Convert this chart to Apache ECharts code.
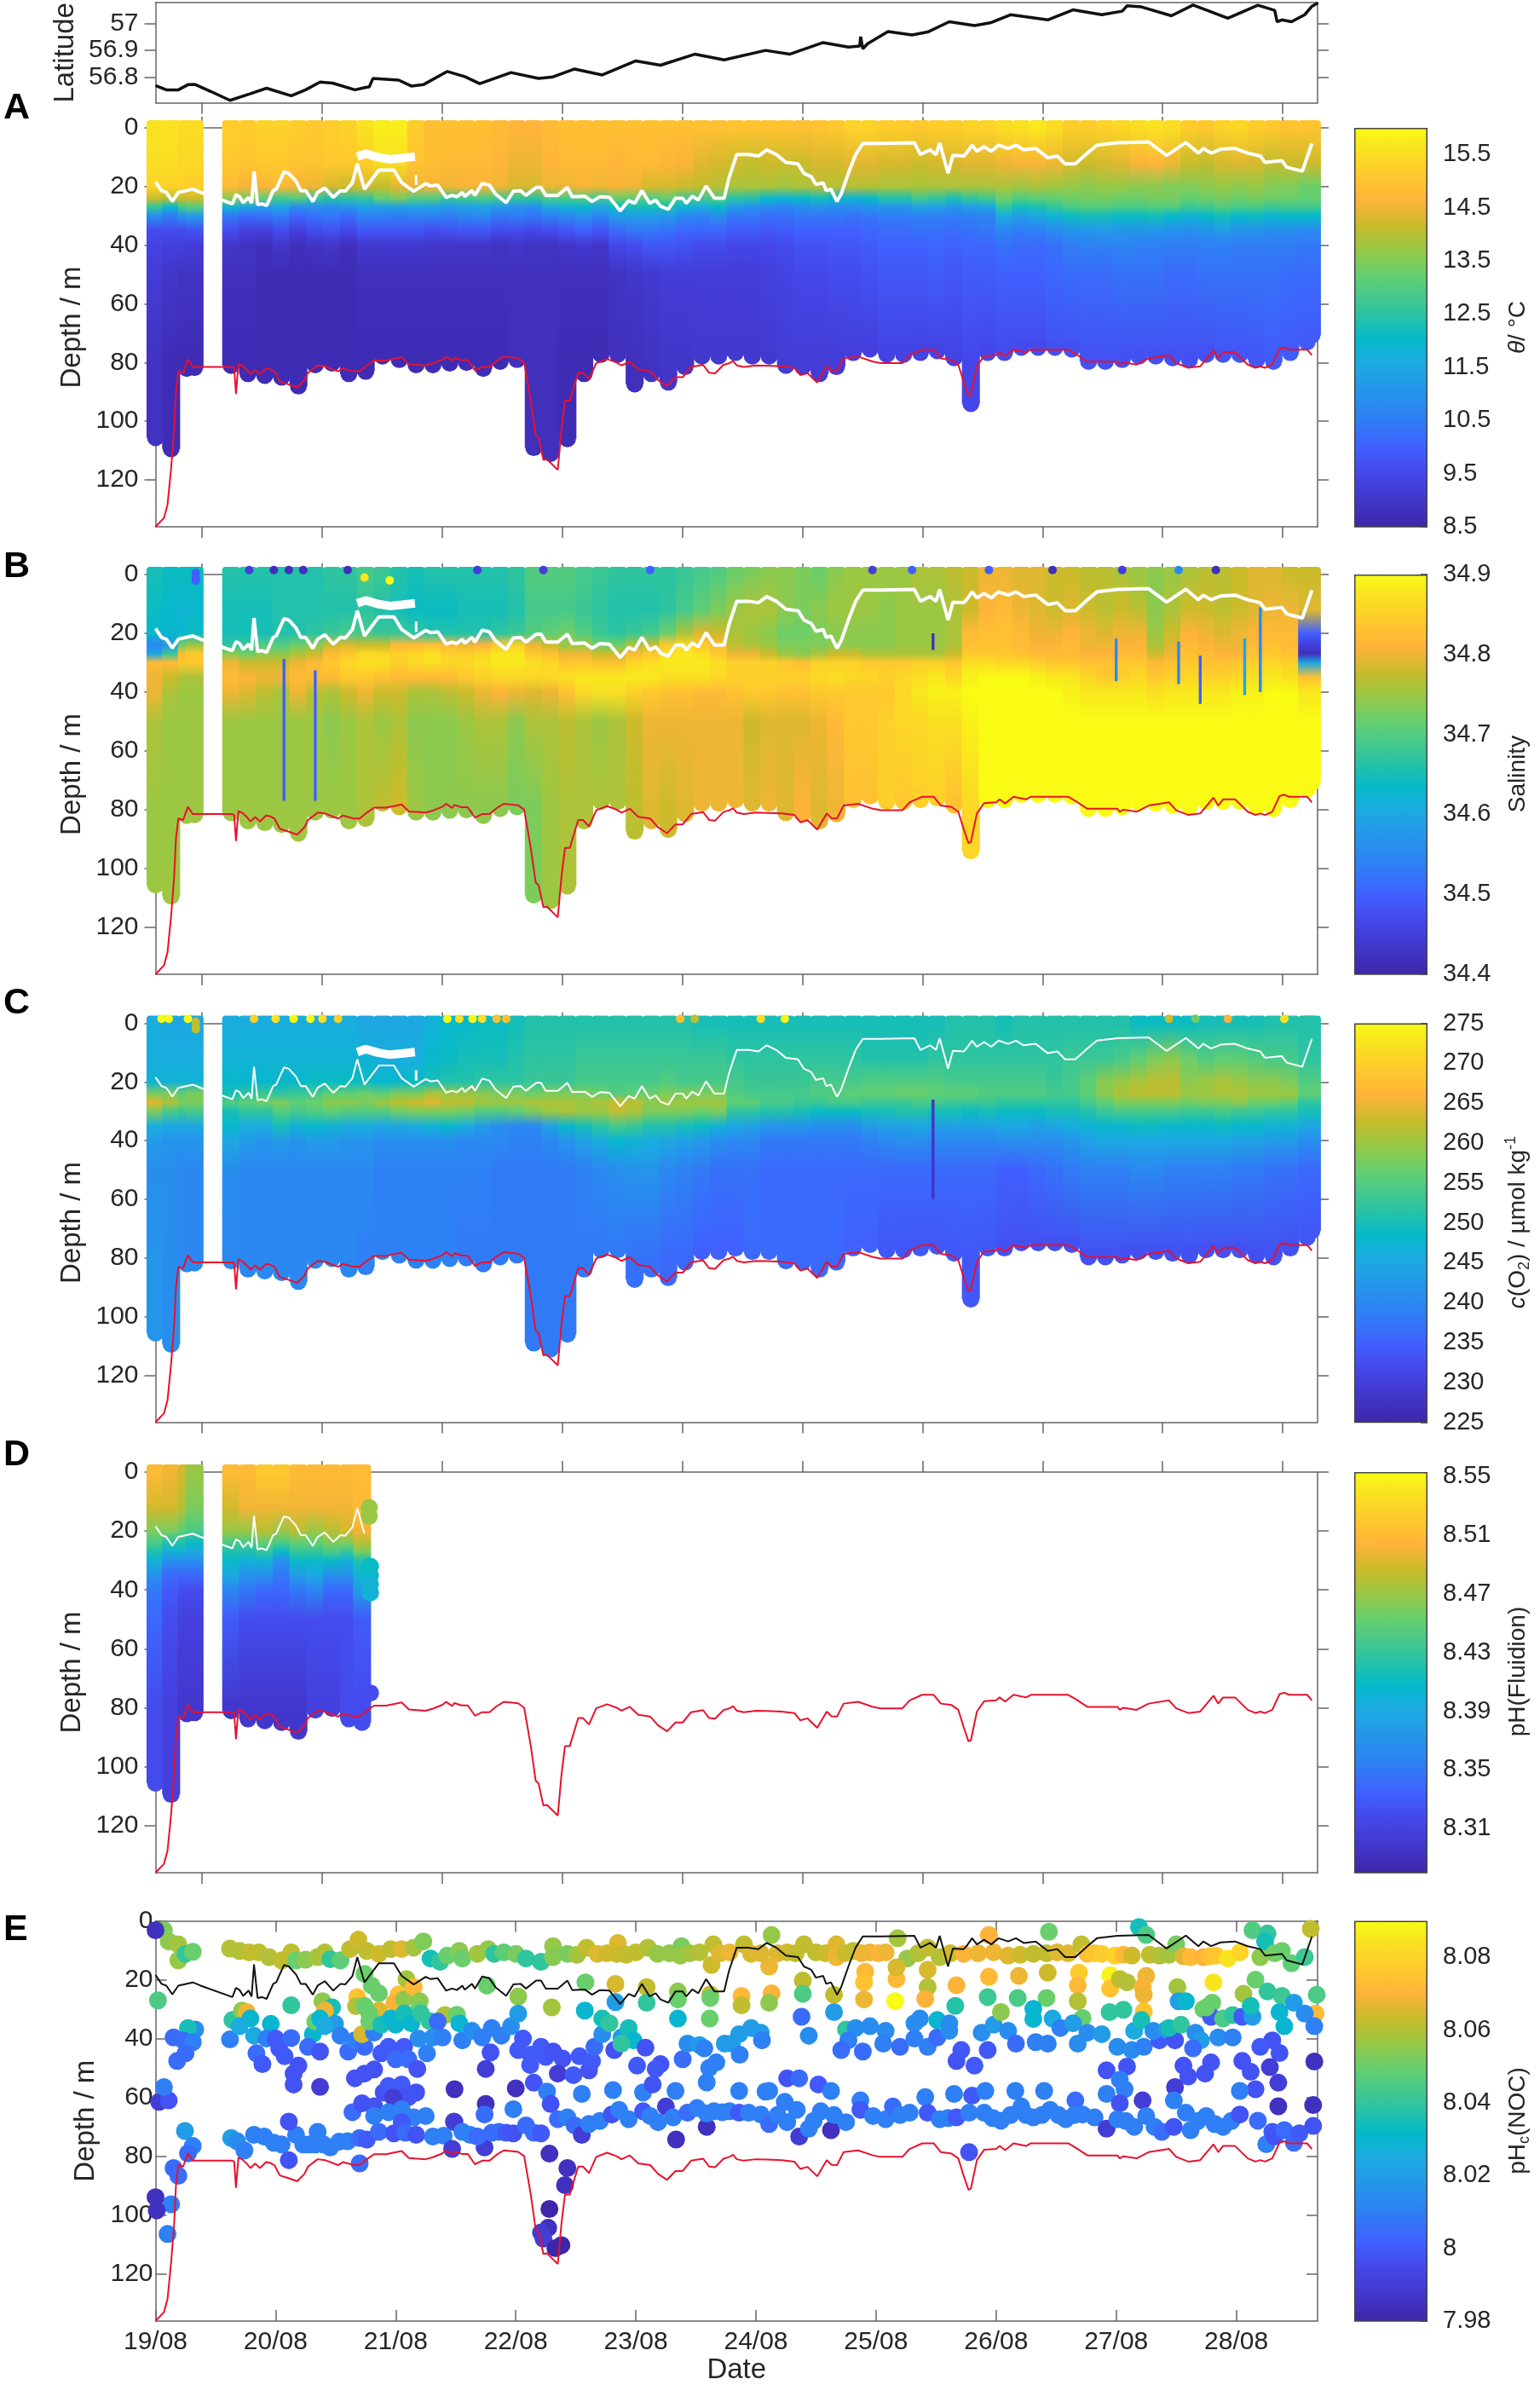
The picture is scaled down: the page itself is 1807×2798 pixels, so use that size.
<!DOCTYPE html>
<html>
<head>
<meta charset="utf-8">
<script src="https://cdn.jsdelivr.net/npm/echarts@6/dist/echarts.min.js"></script>
<style>
html, body { margin: 0; background: #fff; }
#chart { width: 1807px; height: 2798px; }
</style>
</head>
<body>
<div id="chart"></div>
<script>
// ----- tick labels -----
const DATE_LABELS = ["19/08","20/08","21/08","22/08","23/08","24/08","25/08","26/08","27/08","28/08"];
const DATE_TICKS = [0,1,2,3,4,5,6,7,8,9];
const UPPER_TICKS = [0.387,1.387,2.387,3.387,4.387,5.387,6.387,7.387,8.387,9.387];
const DEPTH_TICKS = [0,20,40,60,80,100,120];
const LAT_TICKS = [56.8,56.9,57];
const THETA_TICKS = [8.5,9.5,10.5,11.5,12.5,13.5,14.5,15.5];
const SAL_TICKS = [34.4,34.5,34.6,34.7,34.8,34.9];
const O2_TICKS = [225,230,235,240,245,250,255,260,265,270,275];
const FLU_TICKS = [8.31,8.35,8.39,8.43,8.47,8.51,8.55];
const NOC_TICKS = [7.98,8,8.02,8.04,8.06,8.08];

// ----- ship track and lines, [day, value] -----
const latitudeTrack = [[0,56.77],[.09,56.754],[.19,56.754],[.27,56.773],[.33,56.774],[.46,56.748],[.62,56.715],[.78,56.738],[.925,56.76],[1.13,56.732],[1.25,56.754],[1.37,56.783],[1.475,56.779],[1.66,56.754],[1.76,56.764],[1.78,56.765],[1.81,56.796],[2.025,56.79],[2.13,56.768],[2.23,56.773],[2.43,56.822],[2.575,56.803],[2.7,56.777],[2.96,56.818],[3.19,56.796],[3.31,56.802],[3.49,56.831],[3.72,56.809],[4,56.861],[4.205,56.845],[4.49,56.886],[4.735,56.865],[5.08,56.9],[5.28,56.886],[5.56,56.929],[5.77,56.912],[5.864,56.916],[5.872,56.951],[5.89,56.906],[5.93,56.925],[6.1,56.97],[6.3,56.957],[6.43,56.968],[6.61,57.006],[6.82,56.992],[6.96,57.003],[7.12,57.032],[7.43,57.013],[7.64,57.05],[7.88,57.032],[8.05,57.045],[8.09,57.065],[8.21,57.061],[8.46,57.028],[8.64,57.068],[8.93,57.019],[9.18,57.067],[9.32,57.048],[9.34,57.006],[9.38,57.013],[9.46,57.006],[9.57,57.032],[9.63,57.063],[9.68,57.076]];

const seabed = [[0,136],[.07,133],[.1,128.5],[.13,116],[.155,103],[.17,90],[.19,83],[.23,83.5],[.27,79],[.31,81.5],[.33,81.5],[.64,81.5],[.655,81.8],[.67,90.7],[.69,80.5],[.72,81],[.76,82.5],[.79,84],[.83,82.5],[.87,84],[.92,82],[.95,82.2],[.99,83],[1.035,86.5],[1.11,87.5],[1.18,88.5],[1.24,86],[1.27,83.5],[1.35,81],[1.41,81.3],[1.52,83],[1.56,82],[1.65,83],[1.7,83],[1.76,81],[1.82,79.3],[1.92,79.3],[2.05,78.2],[2.11,80.6],[2.25,81],[2.31,80.3],[2.39,79],[2.42,78],[2.47,79.4],[2.49,78.4],[2.55,79.2],[2.6,79.2],[2.66,82.7],[2.72,81.5],[2.78,81.5],[2.84,79.5],[2.9,78],[3.02,78.5],[3.07,80],[3.125,93],[3.166,104.8],[3.19,105.7],[3.23,113.2],[3.26,113],[3.35,116.6],[3.38,103],[3.41,93],[3.45,93],[3.52,83.5],[3.56,83.5],[3.61,85.7],[3.67,80.2],[3.76,78.8],[3.84,80],[3.88,81],[3.95,79.7],[4.02,82.4],[4.12,83],[4.185,86],[4.26,88],[4.33,85],[4.39,85],[4.46,81.5],[4.56,80.8],[4.61,83.5],[4.66,83.7],[4.73,80.8],[4.78,80.2],[4.81,79.5],[4.84,81],[4.9,81.5],[5,81],[5.09,81.1],[5.215,81.3],[5.32,81.8],[5.37,84.3],[5.43,83.6],[5.51,86.8],[5.59,81.3],[5.63,82.9],[5.675,83],[5.73,78.6],[5.85,78],[5.975,79.7],[6.04,80.2],[6.22,80.2],[6.28,77.5],[6.385,75.6],[6.48,75.6],[6.54,78.6],[6.63,79.1],[6.685,80.7],[6.73,86.6],[6.77,91.4],[6.79,91],[6.84,81.3],[6.9,77.8],[7,77.5],[7.03,76.5],[7.075,77.9],[7.145,75.6],[7.25,76.5],[7.29,75.6],[7.6,75.6],[7.66,77],[7.76,79.7],[8.01,79.7],[8.03,80.7],[8.06,80],[8.17,80.7],[8.27,78.6],[8.44,77.5],[8.5,80.2],[8.6,81.8],[8.7,81.3],[8.81,75.9],[8.85,78.6],[8.89,76.5],[8.99,76.5],[9.095,80.7],[9.16,81.8],[9.2,81.3],[9.24,81.8],[9.3,80.7],[9.36,75.4],[9.4,74.9],[9.44,75.6],[9.59,75.6],[9.63,77.5]];

const mixedLayer = [[0,18.4],[.05,21.4],[.09,22],[.14,25],[.19,22],[.31,20.9],[.375,22],[.64,25.9],[.67,22.8],[.7,23.5],[.73,25.5],[.775,23.7],[.8,25.7],[.82,14.8],[.85,26.2],[.885,25.9],[.925,26.5],[.98,21.4],[1.005,20.9],[1.07,15],[1.11,15.5],[1.17,18.2],[1.21,21.4],[1.25,21.4],[1.31,25.1],[1.35,22],[1.41,20.5],[1.48,23.7],[1.54,21.4],[1.58,21.6],[1.64,18.7],[1.68,12.3],[1.74,20.9],[1.86,14.4],[1.985,14.4],[2.05,18.7],[2.15,21.6],[2.25,19],[2.29,19.8],[2.35,19.5],[2.42,23.7],[2.47,23],[2.51,23.5],[2.555,22],[2.575,23.4],[2.635,21.4],[2.66,23],[2.72,18.9],[2.78,19.5],[2.83,22.5],[2.92,25.5],[2.98,21.6],[3.04,21.4],[3.085,23],[3.17,20.3],[3.21,20.3],[3.25,23],[3.35,23],[3.43,20.3],[3.47,23.5],[3.575,23.3],[3.635,25.1],[3.7,23.5],[3.78,23.7],[3.87,28.3],[3.94,24.8],[3.99,25.7],[4.05,21.4],[4.115,25.7],[4.165,24.6],[4.205,26.7],[4.27,27.8],[4.33,24],[4.39,24],[4.42,25.7],[4.47,23.3],[4.52,24.6],[4.585,19.8],[4.655,24],[4.735,24],[4.775,17.1],[4.84,9.1],[4.94,9.1],[5.02,9.6],[5.09,7.5],[5.17,9.1],[5.25,11.8],[5.35,12.3],[5.4,15.5],[5.46,16.6],[5.5,19.3],[5.56,18.7],[5.585,21.4],[5.625,20.9],[5.675,25.1],[5.71,22.5],[5.77,15.5],[5.83,9.1],[5.89,5.3],[6.04,5.3],[6.32,5.1],[6.37,9.1],[6.45,7.5],[6.5,9.1],[6.53,5.1],[6.6,15.5],[6.64,9.4],[6.73,9.6],[6.755,8.5],[6.8,5.9],[6.84,8],[6.9,6.4],[6.96,8],[7.02,5.9],[7.1,7],[7.165,5.9],[7.23,7.5],[7.33,7],[7.43,10.2],[7.51,9.6],[7.575,12.3],[7.66,12.3],[7.76,8.6],[7.84,5.9],[8.01,5.1],[8.27,4.8],[8.42,9.4],[8.58,5],[8.685,8.6],[8.725,7],[8.79,8.6],[8.87,7.3],[8.99,7],[9.095,8.6],[9.2,9.6],[9.24,11.8],[9.38,11.2],[9.42,13.4],[9.55,14.8],[9.63,5.3]];

// no-data patch in the glider records near 20/08
const gapPatch = [[1.68,9.8],[1.75,8.8],[1.85,10],[1.95,10.7],[2.05,10.3],[2.16,9.8]];
const gapTick = [[2.17,16],[2.17,19.5]];

// ----- glider sections: one value per column, per depth level -----
const LEVELS = [0,12,20,24,27,30,35,40,50,80];
const colDays = [0,.13,.26,.325,.63,.77,.91,1.05,1.19,1.33,1.47,1.61,1.75,1.89,2.03,2.17,2.31,2.45,2.59,2.73,2.87,3.01,3.15,3.29,3.43,3.57,3.71,3.85,3.99,4.13,4.27,4.41,4.55,4.69,4.83,4.97,5.11,5.25,5.39,5.53,5.67,5.81,5.95,6.09,6.23,6.37,6.51,6.65,6.79,6.93,7.07,7.21,7.35,7.49,7.63,7.77,7.91,8.05,8.19,8.33,8.47,8.61,8.75,8.89,9.03,9.17,9.31,9.45,9.59,9.63];
const colBottom = [105.6,109.4,82,81.7,81,83.8,84.4,85,88,80.8,80.2,83.8,83,77.8,79,80.8,80.8,80.2,80,82,79.6,79,109,111,106,83.8,77.2,77.2,87.3,83.8,86.7,81.4,77.8,77.8,76.6,77.8,77.8,81,81.4,83.8,81.4,76.6,75.4,77.2,77.2,76.6,76,78.4,94,76.6,76.6,74.8,74.8,74.8,75.4,79.6,79.6,79,77.8,77.8,78.4,79,77.2,77.2,77.2,79,79.6,76.6,73,70.7];

const theta0 = [15.6,15.6,15.5,15.5,15.2,15.2,15.3,15.3,15.2,15.1,15.2,15.3,15.6,15.8,15.8,15.2,14.9,14.9,14.9,14.9,14.8,14.7,14.7,14.8,14.9,14.9,14.9,14.9,14.9,14.9,14.9,14.9,14.9,14.9,15,15,15,15,14.9,15,15.1,15.3,15.3,15.2,15.2,15.1,15.2,15.2,15.3,15.3,15.5,15.6,15.7,15.5,15.2,15.2,15.3,15.4,15.5,15.6,15.5,15.2,15.1,15.3,15.4,15.2,15.1,15,15,15];
const theta12 = [15.5,15.5,15.4,15.4,15.1,15,15.1,15.1,15,15,15.1,15.1,15.2,15.5,15.5,15,14.9,14.8,14.8,14.8,14.7,14.5,14.5,14.7,14.8,14.8,14.8,14.7,14.8,14.8,14.7,14.6,14.4,14.3,14.2,14.1,14.2,14.2,14.2,14.3,14.3,14.4,14.4,14.3,14.3,14.2,14.3,14.3,14.4,14.4,14.5,14.6,14.6,14.5,14.3,14.2,14.3,14.4,14.6,14.7,14.5,14.2,14.1,14.3,14.4,14.3,14.1,14.2,14.2,14.2];
const theta20 = [15.3,15.3,15.3,15.2,14.8,14.6,14.6,14.8,14.6,14.5,14.3,14.2,14.3,14.1,14.4,14.5,14.6,14.5,14.6,14.6,14.5,14.3,14.3,14.5,14.5,14.6,14.5,14.6,14.5,14.3,14.3,14.2,14.1,14,13.9,13.9,13.9,13.8,13.9,14,14,14,14,13.9,13.9,13.9,13.9,13.9,13.9,13.9,13.9,13.8,13.9,13.8,13.7,13.6,13.7,13.7,13.6,13.6,13.5,13.5,13.6,13.7,13.6,13.7,13.5,13.5,13.3,13.3];
const theta24 = [14.2,14,14.2,14.2,13.6,13.4,13.2,12.8,13,12.6,12.4,12.5,12.6,13.2,13.4,13,13,12.6,12.8,12.9,12.8,12.6,12.5,12.9,12.9,13,12.8,13.3,13.2,13,13.2,12.8,12.8,13,12.5,12.4,12,11.9,12,12.2,11.9,11.8,12,12.4,12.4,12.8,12.6,12.3,12.6,12.8,13.3,13,13.1,13.2,13.3,13.4,13.4,13.3,13.3,13.4,13.4,13.2,13.3,13.4,13.3,13.4,13.3,13.3,13.2,13.2];
const theta27 = [12.6,11.9,12.8,13,11.8,11.4,11.2,11.4,10.9,10.9,10.9,11,11.3,11.3,11.3,11.4,11.3,11.2,11.3,11.4,11.2,11,10.9,11.5,11.8,11.9,11.5,12,12.2,12.2,12.2,11.8,11.6,12,11.2,11,10.8,10.7,10.9,11,10.9,10.9,11,11.1,11.1,11.4,11.3,11.1,11.3,11.4,12.6,12.2,12.3,12.6,12.9,13,13,12.9,12.9,13,13,12.7,12.8,13,12.9,12.9,12.7,12.8,12.8,12.8];
const theta30 = [10.9,10.5,11,11.2,10.4,10.2,10.3,10.5,10.1,10.3,10.4,10.2,10.6,10.6,10.5,10.6,10.6,10.5,10.7,10.8,10.4,10.5,10.4,10.6,10.8,11,10.7,11.2,11.3,11.3,11.2,10.8,10.7,10.9,10.4,10.4,10.3,10.3,10.4,10.4,10.4,10.3,10.4,10.5,10.5,10.6,10.6,10.5,10.6,10.7,11.6,11.3,11.5,11.8,12.1,12.2,12.2,12.1,12.1,12.2,12,11.8,12,12.2,12,12.1,11.9,12,12,12];
const theta35 = [9.6,9.6,9.6,9.7,9.6,9.3,9.3,9.6,9.3,9.6,9.7,9.5,9.8,9.8,9.8,9.8,9.6,9.7,9.8,9.8,9.6,9.6,9.5,9.6,9.8,10,9.8,10.2,10.4,10.4,10.3,10.1,10.1,10.1,9.9,9.9,9.8,9.9,10,10,10,10,10.1,10.2,10.2,10.3,10.3,10.2,10.3,10.4,10.7,10.5,10.6,10.8,11,11.1,11.2,11.1,11.1,11.1,11,10.9,11,11.2,11,11,10.9,10.9,10.8,10.8];
const theta40 = [9.4,9.3,9.3,9.2,9,8.9,8.8,9,8.8,8.9,9,8.8,9.1,9.1,9.1,9.1,9,9,9,9,8.9,9,8.9,8.9,9,9.1,9,9.5,9.6,9.8,9.8,9.7,9.6,9.6,9.5,9.5,9.5,9.6,9.7,9.7,9.8,9.8,9.9,10,10,10,10.1,10,10.1,10.1,10.3,10.2,10.2,10.3,10.5,10.6,10.6,10.7,10.6,10.6,10.5,10.5,10.6,10.6,10.5,10.5,10.5,10.5,10.4,10.4];
const theta50 = [9.2,9,8.9,8.9,8.8,8.8,8.7,8.7,8.7,8.7,8.7,8.7,8.8,8.8,8.8,8.8,8.8,8.8,8.8,8.8,8.8,8.8,8.8,8.8,8.8,8.8,8.8,8.9,9,9.1,9.2,9.2,9.2,9.2,9.2,9.2,9.3,9.4,9.5,9.5,9.6,9.6,9.7,9.8,9.8,9.8,9.9,9.8,9.9,9.9,10,10,10,10.1,10.2,10.2,10.2,10.3,10.3,10.3,10.2,10.2,10.3,10.3,10.3,10.3,10.3,10.2,10.2,10.2];
const theta80 = [8.9,8.7,8.7,8.7,8.7,8.7,8.7,8.7,8.7,8.7,8.7,8.7,8.7,8.7,8.7,8.7,8.7,8.7,8.7,8.7,8.7,8.8,8.8,8.8,8.7,8.7,8.7,8.8,8.8,8.9,9,9,9.1,9.1,9.1,9.1,9.1,9.2,9.2,9.2,9.2,9.3,9.3,9.4,9.4,9.4,9.4,9.4,9.5,9.5,9.6,9.6,9.6,9.7,9.7,9.7,9.7,9.7,9.7,9.7,9.7,9.7,9.7,9.8,9.8,9.8,9.9,9.9,9.9,9.9];

const sal0 = [34.65,34.64,34.64,34.64,34.66,34.66,34.66,34.66,34.66,34.66,34.67,34.67,34.69,34.68,34.66,34.65,34.66,34.66,34.66,34.66,34.66,34.67,34.7,34.7,34.7,34.69,34.68,34.67,34.67,34.67,34.67,34.68,34.69,34.7,34.72,34.73,34.74,34.74,34.73,34.72,34.74,34.75,34.75,34.75,34.75,34.76,34.76,34.77,34.78,34.8,34.8,34.79,34.79,34.78,34.78,34.77,34.77,34.76,34.75,34.74,34.75,34.76,34.77,34.77,34.78,34.79,34.79,34.78,34.78,34.78];
const sal12 = [34.64,34.63,34.62,34.63,34.65,34.65,34.65,34.66,34.66,34.66,34.66,34.66,34.67,34.66,34.65,34.64,34.64,34.64,34.65,34.65,34.65,34.66,34.69,34.69,34.69,34.68,34.67,34.66,34.66,34.66,34.67,34.69,34.71,34.73,34.75,34.76,34.76,34.74,34.73,34.74,34.75,34.75,34.75,34.74,34.75,34.75,34.75,34.76,34.78,34.81,34.82,34.8,34.79,34.78,34.79,34.78,34.77,34.78,34.77,34.74,34.76,34.78,34.78,34.77,34.78,34.79,34.8,34.8,34.79,34.79];
const sal20 = [34.63,34.63,34.63,34.64,34.65,34.65,34.65,34.66,34.66,34.67,34.68,34.69,34.69,34.68,34.68,34.67,34.66,34.66,34.66,34.66,34.67,34.68,34.7,34.71,34.72,34.7,34.68,34.67,34.68,34.69,34.72,34.76,34.79,34.78,34.76,34.75,34.74,34.72,34.72,34.73,34.74,34.74,34.74,34.74,34.75,34.75,34.75,34.76,34.82,34.83,34.83,34.82,34.8,34.8,34.81,34.8,34.79,34.8,34.8,34.75,34.78,34.81,34.8,34.79,34.8,34.81,34.82,34.82,34.5,34.5];
const sal24 = [34.55,34.58,34.72,34.75,34.67,34.68,34.7,34.7,34.72,34.74,34.78,34.79,34.78,34.78,34.82,34.82,34.83,34.82,34.8,34.81,34.84,34.85,34.8,34.78,34.75,34.75,34.72,34.72,34.76,34.78,34.84,34.86,34.84,34.82,34.77,34.76,34.75,34.73,34.73,34.73,34.74,34.74,34.74,34.74,34.75,34.75,34.75,34.76,34.83,34.83,34.83,34.82,34.81,34.81,34.82,34.8,34.8,34.81,34.81,34.76,34.79,34.82,34.81,34.8,34.8,34.82,34.83,34.82,34.45,34.45];
const sal27 = [34.6,34.68,34.82,34.84,34.74,34.72,34.74,34.74,34.76,34.78,34.82,34.84,34.86,34.86,34.85,34.86,34.87,34.85,34.85,34.86,34.88,34.88,34.84,34.83,34.8,34.8,34.78,34.78,34.82,34.84,34.87,34.88,34.87,34.84,34.8,34.8,34.78,34.75,34.74,34.76,34.78,34.78,34.76,34.76,34.76,34.76,34.76,34.78,34.84,34.84,34.84,34.83,34.82,34.82,34.82,34.81,34.81,34.82,34.82,34.78,34.8,34.83,34.82,34.81,34.81,34.83,34.84,34.83,34.42,34.42];
const sal30 = [34.82,34.82,34.84,34.84,34.8,34.78,34.78,34.78,34.8,34.82,34.84,34.86,34.87,34.87,34.85,34.86,34.87,34.86,34.86,34.87,34.88,34.88,34.87,34.86,34.84,34.84,34.83,34.83,34.86,34.87,34.88,34.88,34.88,34.87,34.85,34.85,34.85,34.84,34.83,34.85,34.85,34.85,34.84,34.84,34.84,34.85,34.85,34.84,34.87,34.87,34.86,34.86,34.85,34.84,34.84,34.83,34.83,34.84,34.84,34.82,34.83,34.84,34.83,34.83,34.84,34.85,34.86,34.85,34.6,34.6];
const sal35 = [34.8,34.78,34.76,34.76,34.82,34.81,34.8,34.8,34.82,34.82,34.82,34.84,34.84,34.83,34.82,34.82,34.82,34.82,34.84,34.85,34.86,34.86,34.86,34.86,34.87,34.88,34.88,34.88,34.88,34.88,34.87,34.87,34.87,34.86,34.85,34.85,34.85,34.85,34.85,34.86,34.87,34.86,34.86,34.85,34.86,34.87,34.88,34.86,34.89,34.9,34.9,34.9,34.89,34.88,34.88,34.86,34.84,34.85,34.86,34.84,34.85,34.86,34.85,34.85,34.86,34.87,34.88,34.87,34.83,34.83];
const sal40 = [34.8,34.76,34.75,34.75,34.8,34.79,34.77,34.76,34.8,34.77,34.76,34.78,34.8,34.78,34.78,34.76,34.76,34.77,34.78,34.8,34.81,34.8,34.79,34.8,34.83,34.86,34.87,34.87,34.85,34.84,34.83,34.83,34.82,34.82,34.83,34.84,34.84,34.83,34.83,34.84,34.84,34.84,34.84,34.84,34.86,34.88,34.89,34.89,34.9,34.9,34.9,34.9,34.9,34.9,34.89,34.88,34.88,34.88,34.88,34.87,34.88,34.88,34.88,34.88,34.89,34.89,34.9,34.9,34.88,34.88];
const sal50 = [34.76,34.75,34.75,34.75,34.75,34.75,34.75,34.75,34.75,34.75,34.74,34.75,34.76,34.75,34.76,34.74,34.74,34.74,34.75,34.76,34.76,34.74,34.76,34.76,34.77,34.76,34.75,34.76,34.78,34.8,34.8,34.8,34.8,34.8,34.8,34.78,34.79,34.79,34.79,34.8,34.82,34.84,34.84,34.85,34.86,34.86,34.87,34.87,34.89,34.9,34.9,34.9,34.9,34.9,34.9,34.9,34.9,34.9,34.9,34.9,34.9,34.9,34.9,34.9,34.9,34.9,34.9,34.9,34.9,34.9];
const sal80 = [34.75,34.75,34.75,34.75,34.75,34.75,34.75,34.75,34.75,34.75,34.75,34.75,34.76,34.77,34.78,34.75,34.74,34.74,34.74,34.74,34.74,34.73,34.73,34.75,34.76,34.76,34.76,34.76,34.77,34.79,34.78,34.79,34.8,34.8,34.8,34.79,34.8,34.79,34.81,34.79,34.8,34.83,34.83,34.85,34.84,34.85,34.85,34.83,34.86,34.9,34.9,34.9,34.9,34.9,34.9,34.9,34.9,34.9,34.9,34.9,34.9,34.9,34.9,34.9,34.9,34.9,34.9,34.9,34.9,34.9];

const oxy0 = [246,245,245,245,246,246,246,246,246,246,246,246,245,245,245,245,247,248,248,249,249,250,251,251,251,251,251,251,251,251,251,251,250,250,250,250,250,250,250,250,250,250,250,250,250,250,250,251,251,251,250,251,251,251,251,251,251,251,249,249,249,249,250,250,250,250,251,251,251,251];
const oxy12 = [246,246,246,246,247,247,247,247,247,247,247,247,247,246,246,246,248,249,250,250,250,251,252,252,252,253,253,253,253,253,253,253,253,253,252,252,252,252,252,252,252,252,251,251,251,251,252,252,252,252,252,252,252,252,253,253,253,254,256,258,259,257,255,256,256,255,254,254,252,252];
const oxy20 = [247,247,247,247,248,248,248,248,248,249,249,249,249,248,248,249,250,251,251,252,252,252,253,253,253,254,254,254,254,254,255,254,254,254,254,253,253,253,253,254,254,254,255,255,255,255,255,254,254,254,254,254,254,253,254,256,259,260,261,262,262,259,260,261,260,259,259,258,255,255];
const oxy24 = [258,258,256,258,250,252,253,252,253,254,256,256,257,256,258,258,261,260,260,259,258,258,257,258,258,258,257,255,256,257,258,258,258,258,255,254,254,254,254,255,255,256,256,256,257,257,256,256,256,255,255,255,255,254,254,256,259,261,262,262,262,260,260,261,261,260,260,260,256,256];
const oxy27 = [264,261,258,258,255,256,257,258,256,257,259,259,258,260,262,263,264,262,262,260,260,260,261,261,261,260,261,263,262,259,260,260,260,260,256,256,254,254,253,253,254,254,253,253,253,254,254,253,253,253,252,252,252,252,252,254,256,258,258,258,258,257,258,258,259,257,257,256,252,252];
const oxy30 = [258,254,253,254,250,252,252,255,254,255,256,255,255,255,257,258,258,258,257,255,255,256,258,260,261,260,260,262,261,258,258,258,257,258,252,252,251,251,250,249,249,249,250,250,251,251,250,250,249,250,249,249,249,250,250,251,253,254,254,254,254,253,253,254,253,253,252,252,250,250];
const oxy35 = [246,245,245,245,248,246,246,250,247,248,247,246,246,245,245,246,247,248,246,243,241,240,240,244,248,250,252,254,253,251,251,250,249,247,245,244,242,242,242,241,241,241,243,244,244,245,244,244,244,244,245,245,244,245,246,247,248,248,249,249,248,248,248,249,248,248,247,247,245,245];
const oxy40 = [243,242,242,242,245,243,242,243,242,243,243,242,242,241,241,241,241,241,240,240,240,239,239,240,242,244,246,248,247,246,245,244,243,241,240,240,238,238,238,238,238,238,239,240,241,241,240,240,240,240,241,241,241,241,242,244,245,245,245,245,245,245,245,245,244,244,243,243,241,241];
const oxy50 = [241,241,240,240,241,240,240,240,240,240,240,240,240,239,239,239,239,239,239,239,238,238,238,238,238,239,240,241,242,242,240,239,238,237,237,237,236,236,236,236,236,236,236,236,236,236,236,236,236,236,235,235,236,237,238,239,239,239,240,240,239,239,239,239,238,238,237,237,236,236];
const oxy80 = [242,241,240,240,240,240,240,240,240,240,240,240,239,239,239,239,239,239,238,238,238,238,238,238,238,238,238,238,237,237,236,236,235,235,235,236,236,236,236,236,236,235,235,234,234,234,234,234,234,234,233,233,233,233,233,233,233,233,233,233,233,233,233,233,233,233,233,233,234,234];

const fluDays = [0,.13,.26,.325,.63,.77,.91,1.05,1.19,1.33,1.47,1.61,1.72];
const fluBottom = [105.6,109.4,82,81.7,81,83.8,84.4,85,88,80.8,80.2,83.8,85];
const flu0 = [8.51,8.5,8.49,8.47,8.51,8.51,8.52,8.52,8.51,8.51,8.51,8.51,8.51];
const flu12 = [8.49,8.49,8.48,8.46,8.49,8.5,8.5,8.5,8.5,8.5,8.5,8.5,8.51];
const flu20 = [8.46,8.46,8.45,8.44,8.47,8.47,8.48,8.47,8.48,8.47,8.48,8.49,8.5];
const flu24 = [8.44,8.42,8.42,8.41,8.44,8.44,8.45,8.44,8.45,8.45,8.46,8.46,8.48];
const flu27 = [8.42,8.4,8.4,8.39,8.42,8.42,8.43,8.41,8.43,8.43,8.44,8.43,8.46];
const flu30 = [8.4,8.37,8.37,8.37,8.41,8.4,8.4,8.37,8.41,8.41,8.41,8.4,8.42];
const flu35 = [8.37,8.34,8.34,8.34,8.39,8.37,8.37,8.35,8.38,8.39,8.37,8.37,8.4];
const flu40 = [8.35,8.33,8.32,8.32,8.36,8.35,8.34,8.34,8.35,8.36,8.34,8.34,8.38];
const flu50 = [8.34,8.32,8.31,8.31,8.33,8.32,8.32,8.32,8.32,8.32,8.32,8.32,8.33];
const flu80 = [8.32,8.31,8.3,8.3,8.3,8.3,8.3,8.3,8.3,8.31,8.31,8.32,8.32];
const fluExtra = [[1.78,12,8.47],[1.78,15,8.47],[1.79,32,8.41],[1.79,35,8.41],[1.79,38,8.4],[1.79,41,8.4],[1.79,75,8.32]];

// narrow off-scale profiles, [day, from depth, to depth, value]
const salStreaks = [[1.07,28.7,77,34.5],[1.33,32.6,77,34.5],[6.475,20,25.7,34.42],[8,21.8,36.3,34.55],[8.52,22.8,37.3,34.55],[8.7,27.6,44,34.5],[9.07,21.8,41,34.6],[9.2,11.2,40,34.55]];
const oxyStreaks = [[6.475,26,60,228]];
// odd surface samples, [day, depth, value]
const salSurface = [[.78,-1.5,34.45],[.985,-1.5,34.42],[1.11,-1.5,34.42],[1.23,-1.5,34.42],[1.6,-1.5,34.42],[1.74,1,34.88],[1.95,2,34.9],[2.68,-1.5,34.45],[3.23,-1.5,34.45],[4.12,-1.5,34.5],[5.97,-1.5,34.45],[6.3,-1.5,34.5],[6.94,-1.5,34.5],[7.47,-1.5,34.42],[8.05,-1.5,34.45],[8.52,-1.5,34.55],[8.83,-1.5,34.42],[.335,-.5,34.5],[.335,1,34.5],[.335,2,34.5]];
const oxySurface = [[.05,-1.5,275],[.11,-1.5,275],[.27,-1.5,275],[.335,-.5,262],[.335,1,262],[.335,2,262],[.82,-1.5,270],[1,-1.5,272],[1.15,-1.5,275],[1.29,-1.5,275],[1.39,-1.5,272],[1.52,-1.5,270],[2.43,-1.5,275],[2.53,-1.5,272],[2.64,-1.5,275],[2.72,-1.5,272],[2.84,-1.5,268],[2.92,-1.5,268],[4.37,-1.5,268],[4.49,-1.5,262],[5.04,-1.5,272],[5.24,-1.5,274],[8.44,-1.5,263],[8.66,-1.5,257],[8.93,-1.5,266],[9.4,-1.5,272]];

// ----- discrete pH samples, [day, depth, pH] -----
const nocSurface = [[.07,3.2,8.053],[.11,7,8.055],[.19,8,8.058],[.19,13.4,8.056],[.25,11.2,8.04],[.31,10.5,8.05],[.62,9.4,8.06],[.7,10.2,8.06],[.78,10.7,8.062],[.86,10.7,8.062],[.945,12.3,8.06],[1.05,13.4,8.062],[1.13,10.7,8.062],[1.17,13.4,8.05],[1.25,13.2,8.055],[1.35,12.3,8.058],[1.41,10.7,8.06],[1.455,13,8.04],[1.54,13.4,8.048],[1.62,9.6,8.062],[1.69,6.4,8.064],[1.76,10.2,8.062],[1.86,11.2,8.064],[1.96,9.6,8.062],[2.05,9.6,8.066],[2.15,9.1,8.058],[2.23,7,8.053],[2.29,12.8,8.035],[2.37,13.9,8.04],[2.43,11.8,8.05],[2.53,10.2,8.055],[2.555,12.8,8.05],[2.68,11.2,8.058],[2.77,9.6,8.056],[2.82,11.2,8.04],[2.9,10.7,8.048],[3,11.2,8.052],[3.085,12.8,8.04],[3.21,13.9,8.04],[3.31,8.6,8.056],[3.31,12.3,8.054],[3.43,11.2,8.052],[3.51,11.5,8.058],[3.59,9.1,8.062],[3.68,11.2,8.066],[3.76,11,8.064],[3.85,7.5,8.066],[3.84,11.2,8.064],[3.92,11.5,8.062],[4,10.7,8.062],[4.1,9.1,8.06],[4.18,11.2,8.056],[4.28,11,8.056],[4.38,8.6,8.052],[4.37,11.8,8.056],[4.45,11,8.058],[4.53,10.7,8.06],[4.645,8,8.062],[4.63,15,8.064],[4.7,11,8.066],[4.78,10.7,8.068],[4.9,8,8.062],[4.96,11.2,8.066],[5.13,4.8,8.056],[5.11,15.5,8.068],[5.04,11,8.066],[5.18,11,8.066],[5.26,10.7,8.064],[5.33,11,8.062],[5.4,8,8.062],[5.5,10.7,8.062],[5.58,11,8.064],[5.67,8,8.066],[5.67,12.3,8.068],[5.74,11,8.064],[5.81,10.2,8.062],[5.88,11,8.068],[5.95,10.7,8.068],[6.02,11,8.07],[6.08,10.7,8.068],[6.18,5.9,8.058],[6.26,12.8,8.056],[6.35,11,8.06],[6.43,9.1,8.062],[6.53,12.3,8.06],[6.62,11,8.064],[6.73,11.2,8.07],[6.85,11,8.068],[6.94,4.8,8.07],[6.98,10.7,8.068],[7.1,11.8,8.066],[7.2,11.5,8.064],[7.31,11.2,8.062],[7.44,3.7,8.05],[7.42,11,8.062],[7.51,10.7,8.066],[7.6,11,8.066],[7.71,8,8.062],[7.76,11.2,8.074],[7.82,11,8.076],[7.88,11.2,8.078],[7.99,11.8,8.08],[8.06,11.5,8.072],[8.13,11.8,8.064],[8.19,2.1,8.035],[8.25,4.8,8.045],[8.28,11.5,8.062],[8.36,11.8,8.06],[8.44,11.5,8.058],[8.5,8,8.052],[8.56,12,8.066],[8.62,12.3,8.072],[8.725,12.3,8.07],[8.78,12,8.074],[8.83,11.8,8.076],[8.93,12.8,8.085],[9.03,10.7,8.08],[9.135,3.2,8.046],[9.2,12.3,8.055],[9.26,4.3,8.04],[9.24,7,8.035],[9.32,11,8.052],[9.38,10.2,8.05],[9.46,14.4,8.048],[9.57,12.3,8.042],[9.62,2.7,8.062]];
const nocScattered = [[.02,27,8.045],[1.13,28.7,8.04],[1.39,27.3,8.055],[1.47,29.4,8.035],[1.41,30.5,8.068],[1.68,25.9,8.075],[1.67,29,8.06],[1.74,18,8.05],[1.8,22,8.05],[1.86,24.6,8.05],[2.025,25,8.075],[1.99,27.8,8.07],[2.07,26.7,8.055],[2.09,19.8,8.058],[2.15,22.5,8.072],[2.2,27.3,8.055],[2.19,30.5,8.05],[1.86,30.5,8.066],[1.78,31.5,8.05],[1.74,28.9,8.05],[2.76,22,8.05],[3.02,25.7,8.055],[3.3,29.4,8.058],[3.58,20.9,8.05],[3.83,21.4,8.065],[4.09,22.5,8.062],[4.09,27.8,8.04],[4.35,24,8.055],[4.35,26.7,8.05],[4.62,25,8.062],[4.62,26.2,8.05],[4.88,25.5,8.072],[4.88,28.7,8.062],[5.13,24.6,8.07],[5.11,27.8,8.055],[5.39,20.3,8.062],[5.39,24.8,8.045],[5.65,25.1,8.062],[5.91,17.3,8.072],[5.9,20.9,8.075],[5.9,26.7,8.068],[6.16,27.3,8.09],[6.17,19.8,8.072],[6.17,15.8,8.065],[6.43,16.6,8.065],[6.43,22.5,8.06],[6.41,26.5,8.07],[6.67,21.9,8.07],[6.66,28.9,8.038],[6.94,19,8.072],[6.93,25.9,8.042],[7.19,18.7,8.068],[7.18,26.2,8.045],[7.43,17.6,8.064],[7.42,26.2,8.05],[7.69,17.6,8.078],[7.68,21.9,8.072],[7.68,27.3,8.06],[7.72,33,8.05],[7.95,18.5,8.088],[7.95,23,8.075],[8.03,19.8,8.062],[8.09,20.9,8.06],[8.25,18.7,8.068],[8.22,22.5,8.07],[8.23,25,8.068],[8.23,30.8,8.075],[8.51,22.5,8.058],[8.81,20.9,8.085],[9.16,20,8.05],[9.06,24.8,8.058],[9.26,24,8.04],[9.38,25.5,8.042],[9.67,25.1,8.045],[9.66,31.5,8.072],[8.8,27.8,8.05],[8.725,30,8.05]];
const nocMiddle = [[.33,36.9,8.015],[.27,36.4,8.035],[.15,39.6,8.005],[.23,40.6,8.005],[.31,41.2,8.01],[.25,45,8.005],[.18,47.6,8.005],[.62,40.3,8.01],[.64,33.7,8.04],[.72,30.5,8.055],[.76,31,8.068],[.79,33.2,8.03],[.7,35.8,8.025],[.82,39,8.025],[.96,35,8.03],[.925,40,8.01],[.84,45,8.005],[.89,48.7,8],[1,40,8],[1.03,43.3,8],[1.075,46,8],[1.13,39.8,8.005],[1.31,38.5,8.03],[1.33,34.2,8.05],[1.37,33.2,8.03],[1.495,35,8.02],[1.41,35.8,8.025],[1.54,39,8.01],[1.27,42.8,8.005],[1.37,44.4,7.998],[1.605,44.4,8.005],[1.66,40.6,8.01],[1.74,42.8,8.005],[1.72,38.5,8.065],[1.82,38,8.01],[1.78,34.2,8.05],[1.88,35.3,8.035],[1.96,33.2,8.03],[2,35.3,8.03],[2.07,31.5,8.035],[2.13,34.8,8.03],[2.21,31.5,8.04],[2.28,34,8.04],[2.41,32,8.06],[2.51,31.9,8.05],[2.35,34.2,8.005],[2.53,34.8,8.03],[2.31,39.6,8.015],[2.39,39.6,8.01],[2.19,40,8.015],[2.26,45,8.01],[1.88,45,8],[1.94,42.8,8],[2.07,42.8,8],[2,47,8.005],[2.105,47,8.005],[2.18,50.3,7.998],[2.555,40.6,8.01],[2.635,37.4,8.015],[2.72,39.6,8.01],[2.8,36.4,8.01],[2.88,39,8.01],[2.96,35.8,8.015],[3.02,31.5,8.02],[2.79,44.7,7.998],[2.75,50.3,7.99],[3.02,43.9,8],[3.06,40,8],[3.125,45.5,8],[3.21,42.8,8],[3.12,49,8],[3.25,46.2,8],[3.31,44.4,7.998],[3.39,46.8,7.998],[3.35,51.9,7.99],[3.48,52.4,8],[3.53,46,8],[3.61,50.8,7.998],[3.635,47.6,8],[3.655,42.8,8.005],[3.72,38.5,8.015],[3.575,30.5,8.03],[3.83,27.6,8.02],[3.72,33.2,8.035],[3.78,34.8,8.04],[3.82,43.9,7.998],[3.88,39.6,8.02],[3.94,36.4,8.035],[3.98,40.6,8.03],[3.88,41.7,8.04],[4.08,43.1,7.998],[4.01,49.2,8],[4.205,48.7,7.998],[4.165,50.3,8],[4.35,33.2,8.03],[4.615,33.2,8.05],[4.39,47,8.005],[4.43,41.7,8.015],[4.53,42.2,8.02],[4.57,43.3,8.01],[4.67,48.1,8.01],[4.61,50,8.01],[4.74,41.7,8.02],[4.86,38.5,8.02],[4.8,41.7,8.02],[4.96,36.4,8.02],[4.865,45.5,8.01],[5.04,38,8.02],[5.05,40.6,8.01],[5.38,32.6,8.005],[5.44,39,8.015],[5.65,31,8.02],[5.75,36.9,8.04],[5.83,36.4,8.015],[5.77,40.6,8.01],[5.71,43.9,8.005],[5.89,44.4,8.005],[5.95,35.8,8.015],[6.08,37.4,8.015],[6.06,41.7,8.01],[6.2,42.8,8.005],[6.32,34.8,8.015],[6.365,33.2,8.015],[6.51,33.7,8.03],[6.61,34.8,8.015],[6.32,40,8.01],[6.43,42.8,8.01],[6.51,39.6,8.005],[6.61,37.4,8.015],[6.88,38,8.015],[6.98,35.3,8.02],[7.1,37.4,8.015],[7.04,31,8.055],[7.31,33.3,8.03],[7.31,29.9,8.03],[7.165,41.7,8.005],[7.33,41.2,8.01],[7.47,33.2,8.025],[7.43,41.7,8.01],[7.535,36.4,8.01],[7.64,34.8,8.02],[7.68,41.7,8.015],[7.76,38,8.015],[7.88,38.5,8.02],[8.01,42.8,8.015],[7.945,31,8.04],[8.06,30.2,8.04],[8.15,37.4,8.025],[8.13,43.9,8.015],[8.23,42.8,8.01],[8.21,33.7,8.035],[8.36,40.6,8],[8.31,37.4,8.015],[8.42,36.9,8.02],[8.49,40.6,7.998],[8.44,36.4,8.035],[8.52,27.3,8.02],[8.58,27.3,8.03],[8.54,35.3,8.04],[8.66,38,8.015],[8.705,40.6,8.02],[8.64,43.3,8.005],[8.79,32.6,8],[8.75,29.4,8.05],[8.85,39.6,8.015],[8.97,39.6,8.01],[8.89,33.2,8.045],[8.97,32,8.04],[9.05,32.6,8],[9.135,32.6,8.02],[9.12,28.9,8.035],[9.3,40.6,7.998],[9.2,42.8,8],[9.36,44.9,7.998],[9.36,31,8.03],[9.4,35.8,8.03],[9.48,27.8,8.02],[9.57,31.5,8.015],[9.65,35.8,8.01],[9.65,47.8,7.985]];
const nocDeep = [[1.15,51.9,7.998],[1.19,49.2,7.998],[1.15,55.6,7.998],[1.37,56.4,7.99],[1.66,53.5,7.998],[1.74,51.9,7.998],[1.82,50.5,7.998],[1.9,58.3,7.998],[1.94,56.1,8],[2.05,55.6,8],[2.105,60,7.998],[2.17,58.3,7.998],[1.98,60,7.99],[2.49,57.2,7.985],[2.75,62.2,7.985],[3,56.9,7.985],[3.15,55,7.998],[3.26,58,8.01],[3.29,62.2,7.998],[3.55,58.8,8.01],[3.81,57.5,8.01],[4.06,58.3,8.01],[4.14,55.6,7.998],[4.33,57.8,8.01],[4.59,54.9,8.01],[4.86,57.8,8.01],[5.08,58,8.01],[2.98,64,8.01],[.03,61.5,7.99],[.11,61,7.998],[.07,56.5,8.01],[5.26,53.5,7.998],[5.36,53.5,8.005],[5.52,55.6,8],[5.625,57.8,8.01],[5.11,57.8,8.01],[6.67,47.6,7.998],[6.71,43.9,8],[6.82,49.2,8],[6.93,43.9,8],[6.65,58.8,8.01],[6.8,59.4,8],[6.91,57.8,8.01],[7.16,57.8,8.01],[7.4,57.8,8.01],[7.66,61,8.005],[7.92,50.8,7.998],[8.09,49.5,7.998],[8.03,54,8.01],[8.07,57.2,8.01],[7.92,58.8,8.01],[8.56,49.2,7.998],[8.6,52.9,7.998],[8.74,51.9,7.998],[8.79,48.1,7.998],[8.49,56.5,7.99],[8.48,61,8.01],[9.05,47.6,7.998],[9.12,51.3,7.998],[9.28,49.7,7.99],[9.35,55,7.99],[9.16,57.2,7.998],[9.03,57.8,8.01],[9.35,63,7.985],[9.64,62.6,7.985],[8.22,61,7.99],[8.03,62,7.998],[1.64,65,8.005],[1.72,62,7.998],[1.82,63,7.998],[1.82,66.3,8.01],[1.94,65,8.01],[2.05,64,8.01],[2.15,66.8,8.01],[2.25,66.3,8.01],[2.74,65.8,8.005],[2.49,68.4,7.998],[2.05,68.4,8]];
const nocLower = [[.245,71.4,8.02],[.31,76.5,8.01],[.27,79,8.005],[.15,84,8.005],[.19,86.6,8.005],[.13,96.3,8.01],[.1,106.4,8.01],[0,93.9,7.985],[.01,98.4,7.985],[0,3.2,7.985],[.63,73.8,8.02],[.68,74.9,8.015],[.74,78,8.01],[.82,72.7,8.01],[.905,73.3,8.01],[.985,75.4,8.01],[1.05,76,8.01],[1.11,81.3,7.998],[1.17,72.7,8.01],[1.23,76,8.01],[1.11,68.2,7.998],[1.28,76,8.01],[1.35,71.7,8.01],[1.33,76,8.01],[1.4,76,8.01],[1.455,77,8.01],[1.53,75,8.01],[1.6,74.9,8.01],[1.7,82.4,8.005],[1.7,73.8,8.005],[1.76,74.3,8],[1.86,71.7,8.005],[1.985,72.2,7.998],[2.08,72,8.005],[2.17,72.7,7.998],[2.31,73.3,8.01],[2.4,73,8.01],[2.485,68.2,7.99],[2.47,77.5,7.99],[2.555,71.7,8.01],[2.62,72.7,8.01],[2.74,77,7.99],[2.68,73.3,8.005],[2.8,72,8.005],[2.86,71.7,8.005],[2.92,72,8],[2.98,72.2,7.998],[3.085,69.5,8.005],[3.15,72,8.005],[3.21,72.2,8],[3.28,79.1,7.985],[3.43,84,7.985],[3.41,89.8,7.985],[3.28,97.9,7.98],[3.27,104.3,7.985],[3.21,105.9,7.99],[3.23,108,7.99],[3.33,111.2,7.98],[3.38,110.2,7.98],[3.35,67.4,8.005],[3.43,66.8,8.01],[3.49,69.5,8.005],[3.55,72.7,7.99],[3.61,69,8.01],[3.7,68,8.01],[3.8,65.8,7.998],[3.86,64.2,8.01],[3.94,67.4,8.01],[4.06,64.7,8],[4.12,66.3,8.01],[4.185,68.4,8.01],[4.25,63.1,7.99],[4.31,66.8,8.01],[4.335,74.3,7.985],[4.43,65.2,8.005],[4.51,63.6,8.01],[4.59,70,7.985],[4.59,65.5,8.01],[4.65,64.7,8.01],[4.72,65,8.01],[4.78,64.7,8.01],[4.86,65.2,8],[4.94,65.2,8.01],[5.04,65.8,8.01],[5.11,69,8.005],[5.18,66,8.01],[5.24,61.5,8.01],[5.26,68.4,8.01],[5.36,73.3,7.99],[5.44,70.6,8.01],[5.34,64.2,8.01],[5.54,64.7,8.01],[5.48,68,8.01],[5.625,71.1,7.985],[5.65,66,8.01],[5.75,68.4,8.01],[5.87,61,8.01],[5.87,64.2,8],[5.975,66.3,8.01],[6.08,67.4,8.01],[6.14,63.1,8.005],[6.2,66,8.01],[6.28,65.2,8.01],[6.41,59.9,8.01],[6.43,65.2,8],[6.53,67.4,8.01],[6.6,67,8.01],[6.67,66.8,8],[6.775,65.2,8.01],[6.775,78.6,7.998],[6.9,65.2,8.01],[6.97,67,8.01],[7.04,67.9,8.01],[7.12,66,8.01],[7.21,63.1,8.01],[7.25,66,8.01],[7.31,66.8,8.01],[7.38,66,8.01],[7.45,64.2,8.01],[7.52,66,8.01],[7.58,67.4,8.01],[7.65,66,8.01],[7.72,65.8,8.01],[7.82,66.8,8.01],[7.92,70.6,7.99],[8.01,67.4,8.01],[8.08,68,8.01],[8.15,70,8.01],[8.25,66.3,8.01],[8.32,70,8.01],[8.38,71.7,8.005],[8.48,70,7.998],[8.58,65.2,8.01],[8.62,71.1,8.01],[8.68,68,8.01],[8.75,66.3,8.01],[8.82,69,8.01],[8.89,70,8.01],[8.96,68,8.01],[9.03,65.8,7.998],[9.18,67.9,8.005],[9.25,75.9,8.01],[9.3,71.7,8],[9.32,73.3,7.998],[9.4,71.1,8.005],[9.48,75.4,8.005],[9.525,72.2,8],[9.64,69.7,7.998]];

// ----- parula-like colour map -----
const COLOR_STOPS = [[0,"#3e26a8"],[.13,"#4545e8"],[.2,"#4060ff"],[.27,"#2f7ef5"],[.415,"#1bace0"],[.47,"#04b9c8"],[.54,"#2ec4a0"],[.63,"#64cf70"],[.7,"#9cc742"],[.757,"#c9bb2a"],[.82,"#ffb33a"],[.88,"#ffc82e"],[.95,"#f9e320"],[1,"#f9fb15"]];
const STOP_RGB = COLOR_STOPS.map(s => [s[0], parseInt(s[1].slice(1,3),16), parseInt(s[1].slice(3,5),16), parseInt(s[1].slice(5,7),16)]);
function colorAt(v, range) {
  const f = Math.min(1, Math.max(0, (v - range[0]) / (range[1] - range[0])));
  let i = 1;
  while (i < STOP_RGB.length - 1 && STOP_RGB[i][0] < f) i++;
  const a = STOP_RGB[i-1], b = STOP_RGB[i], t = (f - a[0]) / (b[0] - a[0]);
  return "rgb(" + [1,2,3].map(k => Math.round(a[k] + (b[k] - a[k]) * t)).join(",") + ")";
}

const FONT = '"Liberation Sans", Arial, sans-serif';
const TEXT = "#262626", FRAME = "#666";
const LEFT = 182.5, PLOT_W = 1363.5, DAY_MAX = 9.677, DEPTH_MAX = 136;
const BAR_LEFT = 1589, BAR_W = 86;
const COL_HALF = 0.075, STREAK_HALF = 0.012, DOT = 20, CAP = 9;
const PANELS = [
  { top: 150, height: 468 },
  { top: 674, height: 469 },
  { top: 1200.5, height: 468 },
  { top: 1727, height: 470 },
  { top: 2253.5, height: 469.5 }
];

const chart = echarts.init(document.getElementById("chart"), null, { renderer: "canvas" });
const grids = [], xAxes = [], yAxes = [], series = [];
const lineAx = { show: true, lineStyle: { color: FRAME, width: 1.5 } };
const tickAx = (values, inside) => ({ show: true, inside: !!inside, length: 13, customValues: values, lineStyle: { color: FRAME, width: 1.5 } });

// every plot gets a closed frame: bottom + top x axes, left + right y axes
function addPlot(top, height, cfg) {
  const g = grids.length;
  // outerBoundsMode none: echarts 6 would otherwise shrink the grid to fit the axis names
  grids.push({ left: LEFT, width: PLOT_W, top, height, containLabel: false, outerBoundsMode: "none" });
  const inside = !!cfg.inside;
  xAxes.push({
    gridIndex: g, type: "value", min: 0, max: DAY_MAX, position: "bottom", splitLine: { show: false },
    axisLine: { ...lineAx, onZero: false }, axisTick: tickAx(cfg.xTicks, inside),
    axisLabel: cfg.xLabels
      ? { show: true, customValues: cfg.xTicks, formatter: v => DATE_LABELS[v], fontFamily: FONT, fontSize: 30, color: TEXT, margin: 10 }
      : { show: false },
    name: cfg.xName || "", nameLocation: "middle", nameGap: 41, nameTextStyle: { fontFamily: FONT, fontSize: 33, color: TEXT }
  });
  xAxes.push({
    gridIndex: g, type: "value", min: 0, max: DAY_MAX, position: "top", splitLine: { show: false },
    axisLine: { ...lineAx, onZero: false },
    axisTick: cfg.noTopTicks ? { show: false } : tickAx(cfg.xTicks, inside),
    axisLabel: { show: false }
  });
  yAxes.push({
    gridIndex: g, type: "value", min: cfg.yMin, max: cfg.yMax, inverse: !!cfg.inverse, position: "left", splitLine: { show: false },
    axisLine: { ...lineAx, onZero: false }, axisTick: tickAx(cfg.yTicks, inside),
    axisLabel: { show: true, customValues: cfg.yTicks, hideOverlap: false, fontFamily: FONT, fontSize: 30, color: TEXT, margin: inside ? 3 : 20 },
    name: cfg.yName, nameLocation: "middle", nameGap: cfg.nameGap, nameRotate: 90, nameTextStyle: { fontFamily: FONT, fontSize: 33, color: TEXT }
  });
  yAxes.push({
    gridIndex: g, type: "value", min: cfg.yMin, max: cfg.yMax, inverse: !!cfg.inverse, position: "right", splitLine: { show: false },
    axisLine: { ...lineAx, onZero: false }, axisTick: tickAx(cfg.yTicks, inside), axisLabel: { show: false }
  });
  return { xAxisIndex: 2 * g, yAxisIndex: 2 * g };
}

function addColorbar(top, height, range, ticks) {
  const g = grids.length;
  grids.push({ left: BAR_LEFT, width: BAR_W, top, height, outerBoundsMode: "none" });
  xAxes.push({ gridIndex: g, type: "category", data: ["bar"], show: false });
  yAxes.push({
    gridIndex: g, type: "value", min: range[0], max: range[1], position: "right", splitLine: { show: false },
    axisLine: { show: false }, axisTick: { show: true, inside: true, length: 8, customValues: ticks, lineStyle: { color: "#333", width: 1.5 } },
    axisLabel: { show: true, customValues: ticks, fontFamily: FONT, fontSize: 29, color: TEXT, margin: 18 }
  });
  series.push({
    type: "bar", xAxisIndex: xAxes.length - 1, yAxisIndex: yAxes.length - 1, barWidth: "100%", silent: true,
    data: [range[1]],
    itemStyle: {
      color: new echarts.graphic.LinearGradient(0, 1, 0, 0, COLOR_STOPS.map(s => ({ offset: s[0], color: s[1] }))),
      borderColor: "#444", borderWidth: 1.5
    }
  });
}

function addLine(ax, data, color, width, z) {
  series.push({ type: "line", ...ax, data, showSymbol: false, symbol: "none", silent: true, clip: false, z: z || 6, lineStyle: { color, width }, emphasis: { disabled: true } });
}

// a section: gradient column per profile, capped above depth 0; dots at the bottom sample give the scalloped edge
function addField(ax, days, bottoms, rows, range) {
  const deep = rows[rows.length - 1];
  series.push({
    type: "custom", ...ax, silent: true, z: 3, clip: false,
    data: days.map((d, i) => [d, bottoms[i], i]),
    encode: { x: 0, y: 1 },
    renderItem: (params, api) => {
      const d = api.value(0), b = api.value(1), i = api.value(2);
      const p0 = api.coord([d - COL_HALF, 0]), p1 = api.coord([d + COL_HALF, b]);
      const h = p1[1] - p0[1], total = h + CAP;
      const stops = [{ offset: 0, color: colorAt(rows[0][i], range) }];
      LEVELS.forEach((lv, k) => { if (lv <= b) stops.push({ offset: (CAP + h * lv / b) / total, color: colorAt(rows[k][i], range) }); });
      stops.push({ offset: 1, color: colorAt(deep[i], range) });
      return {
        type: "rect",
        shape: { x: p0[0], y: p0[1] - CAP, width: p1[0] - p0[0], height: total, r: [4, 4, 0, 0] },
        style: { fill: new echarts.graphic.LinearGradient(0, 0, 0, 1, stops) }
      };
    }
  });
  addDots(ax, days.map((d, i) => [d, bottoms[i], deep[i]]), range, DOT, 4);
}

function addDots(ax, data, range, size, z) {
  series.push({
    type: "scatter", ...ax, data, symbolSize: size, silent: true, clip: false, z, large: false,
    encode: { x: 0, y: 1 },
    itemStyle: { opacity: 1, color: p => colorAt(p.value[2], range) }
  });
}

function addStreaks(ax, data, range) {
  series.push({
    type: "custom", ...ax, silent: true, z: 5, clip: false, data, encode: { x: 0, y: [1, 2] },
    renderItem: (params, api) => {
      const d = api.value(0);
      const p0 = api.coord([d - STREAK_HALF, api.value(1)]), p1 = api.coord([d + STREAK_HALF, api.value(2)]);
      return {
        type: "rect",
        shape: { x: p0[0], y: p0[1], width: p1[0] - p0[0], height: p1[1] - p0[1] },
        style: { fill: colorAt(api.value(3), range) }
      };
    }
  });
}

// ----- latitude strip -----
const latAx = addPlot(3, 117.6, { xTicks: UPPER_TICKS, noTopTicks: true, yMin: 56.706, yMax: 57.077, yTicks: LAT_TICKS, yName: "Latitude", nameGap: 84 });
addLine(latAx, latitudeTrack, "#111", 3.5);

// ----- sections -----
const THETA_RANGE = [8.5, 16], SAL_RANGE = [34.4, 34.9], O2_RANGE = [225, 275], FLU_RANGE = [8.28, 8.553], NOC_RANGE = [7.98, 8.09];
const depthCfg = { xTicks: UPPER_TICKS, yMin: 0, yMax: DEPTH_MAX, inverse: true, yTicks: DEPTH_TICKS, yName: "Depth / m", nameGap: 78 };

const axA = addPlot(PANELS[0].top, PANELS[0].height, depthCfg);
addField(axA, colDays, colBottom, [theta0,theta12,theta20,theta24,theta27,theta30,theta35,theta40,theta50,theta80], THETA_RANGE);
addLine(axA, gapPatch, "#fff", 10, 5);
addLine(axA, gapTick, "#fff", 3, 5);
addLine(axA, mixedLayer, "#fff", 4);
addLine(axA, seabed, "#e8112d", 2);

const axB = addPlot(PANELS[1].top, PANELS[1].height, depthCfg);
addField(axB, colDays, colBottom, [sal0,sal12,sal20,sal24,sal27,sal30,sal35,sal40,sal50,sal80], SAL_RANGE);
addStreaks(axB, salStreaks, SAL_RANGE);
addDots(axB, salSurface, SAL_RANGE, 10, 5);
addLine(axB, gapPatch, "#fff", 10, 5);
addLine(axB, gapTick, "#fff", 3, 5);
addLine(axB, mixedLayer, "#fff", 4);
addLine(axB, seabed, "#e8112d", 2);

const axC = addPlot(PANELS[2].top, PANELS[2].height, depthCfg);
addField(axC, colDays, colBottom, [oxy0,oxy12,oxy20,oxy24,oxy27,oxy30,oxy35,oxy40,oxy50,oxy80], O2_RANGE);
addStreaks(axC, oxyStreaks, O2_RANGE);
addDots(axC, oxySurface, O2_RANGE, 10, 5);
addLine(axC, gapPatch, "#fff", 10, 5);
addLine(axC, gapTick, "#fff", 3, 5);
addLine(axC, mixedLayer, "#fff", 2);
addLine(axC, seabed, "#e8112d", 2);

const axD = addPlot(PANELS[3].top, PANELS[3].height, depthCfg);
addField(axD, fluDays, fluBottom, [flu0,flu12,flu20,flu24,flu27,flu30,flu35,flu40,flu50,flu80], FLU_RANGE);
addDots(axD, fluExtra, FLU_RANGE, DOT, 4);
addLine(axD, mixedLayer.filter(p => p[0] <= 1.74), "#fff", 2);
addLine(axD, seabed, "#e8112d", 2);

const axE = addPlot(PANELS[4].top, PANELS[4].height, {
  xTicks: DATE_TICKS, xLabels: true, xName: "Date", inside: true,
  yMin: 0, yMax: DEPTH_MAX, inverse: true, yTicks: DEPTH_TICKS, yName: "Depth / m", nameGap: 65
});
addDots(axE, nocSurface.concat(nocScattered, nocMiddle, nocDeep, nocLower), NOC_RANGE, 21, 4);
addLine(axE, mixedLayer, "#111", 2);
addLine(axE, seabed, "#e8112d", 2);

// ----- colour bars -----
addColorbar(PANELS[0].top, PANELS[0].height, THETA_RANGE, THETA_TICKS);
addColorbar(PANELS[1].top, PANELS[1].height, SAL_RANGE, SAL_TICKS);
addColorbar(PANELS[2].top, PANELS[2].height, O2_RANGE, O2_TICKS);
addColorbar(PANELS[3].top, PANELS[3].height, FLU_RANGE, FLU_TICKS);
addColorbar(PANELS[4].top, PANELS[4].height, NOC_RANGE, NOC_TICKS);

const RICH = {
  i: { fontFamily: FONT, fontSize: 28, fontStyle: "italic", color: TEXT },
  sub: { fontFamily: FONT, fontSize: 18, verticalAlign: "bottom", lineHeight: 34, color: TEXT },
  sup: { fontFamily: FONT, fontSize: 18, verticalAlign: "top", lineHeight: 34, color: TEXT }
};
const barTitle = (y, text) => ({
  type: "text", x: 1781, y, rotation: Math.PI / 2,
  style: { text, rich: RICH, fontFamily: FONT, fontSize: 28, fill: TEXT, align: "center", verticalAlign: "middle" }
});
const panelLetter = (y, text) => ({
  type: "text", x: 4, y,
  style: { text, fontFamily: FONT, fontSize: 43, fontWeight: "bold", fill: "#000", align: "left", verticalAlign: "middle" }
});

chart.setOption({
  animation: false,
  backgroundColor: "#fff",
  grid: grids,
  xAxis: xAxes,
  yAxis: yAxes,
  series,
  graphic: [
    panelLetter(127, "A"), panelLetter(665, "B"), panelLetter(1177, "C"), panelLetter(1707, "D"), panelLetter(2264, "E"),
    barTitle(384, "{i|θ}/ °C"),
    barTitle(908, "Salinity"),
    barTitle(1434, "{i|c}(O{sub|2}) / µmol kg{sup|-1}"),
    barTitle(1961, "pH(Fluidion)"),
    barTitle(2488, "pH{sub|c}(NOC)")
  ]
});
</script>
</body>
</html>
